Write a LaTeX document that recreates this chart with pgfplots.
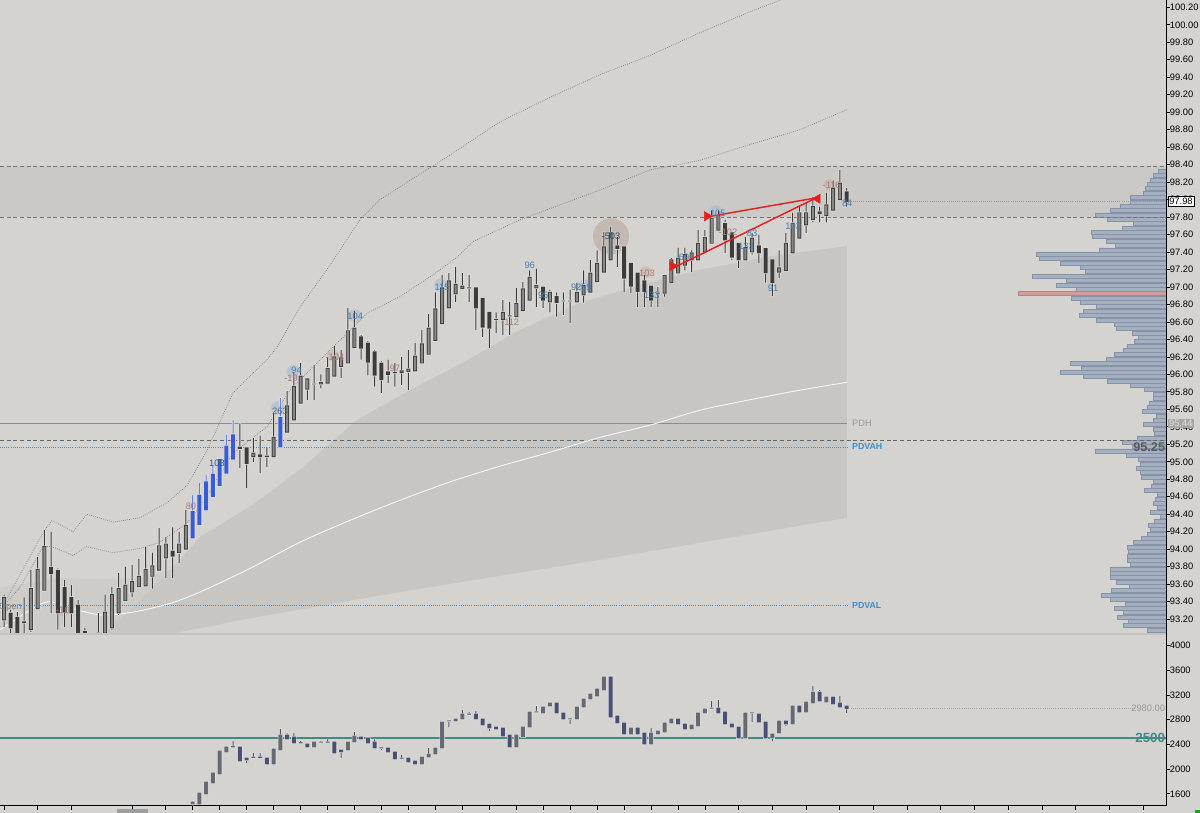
\documentclass[border=0pt]{standalone}
\usepackage{fontspec}
\setmainfont{Liberation Sans}
\usepackage{pgfplots}
\usepackage{pgfplotstable}
\pgfplotsset{compat=1.18}

\definecolor{bg}{HTML}{D4D3D0}
\definecolor{bandc}{HTML}{CAC9C6}
\definecolor{cloud}{HTML}{C7C6C3}
\definecolor{cloudl}{HTML}{CDCCC9}
\definecolor{wickc}{HTML}{3A3A3A}
\definecolor{upfill}{HTML}{878787}
\definecolor{dnfill}{HTML}{3C3C3C}
\definecolor{bluec}{HTML}{3A5BD8}
\definecolor{bluew}{HTML}{5F80E6}
\definecolor{halo}{HTML}{E4E3E0}
\definecolor{navy}{HTML}{4A5075}
\definecolor{navyup}{HTML}{666973}
\definecolor{prof}{HTML}{A4AFC0}
\definecolor{profd}{HTML}{8592A8}
\definecolor{poc}{HTML}{D09C9C}
\definecolor{tealc}{HTML}{3E8A86}
\definecolor{lblue}{HTML}{4B7FB0}
\definecolor{lbrown}{HTML}{A87C72}
\definecolor{pdv}{HTML}{3A8FD0}
\definecolor{redc}{HTML}{E8201C}
\definecolor{dotc}{HTML}{7C7C7C}
\definecolor{sepc}{HTML}{C4C3C0}

\pgfplotstableread{
i o h l c t
0 93.19 93.48 93.11 93.45 1
1 93.27 93.31 93.04 93.10 0
2 93.22 93.28 92.96 93.04 0
3 93.17 93.45 92.96 93.16 0
4 93.08 93.76 93.05 93.55 1
5 93.32 93.91 93.31 93.77 1
6 93.53 94.22 93.53 94.03 1
7 93.79 94.20 93.27 93.72 0
8 93.76 93.78 93.08 93.27 0
9 93.56 93.65 93.11 93.28 0
10 93.45 93.59 93.11 93.27 0
11 93.36 93.42 92.96 93.04 0
12 93.06 93.10 92.90 93.02 0
13 92.98 93.00 92.85 92.90 0
14 92.98 93.27 92.90 93.04 1
15 93.04 93.48 92.98 93.28 1
16 93.10 93.57 93.08 93.48 1
17 93.27 93.73 93.25 93.55 1
18 93.41 93.80 93.40 93.59 1
19 93.51 93.82 93.45 93.63 1
20 93.57 93.89 93.56 93.69 1
21 93.58 94.03 93.58 93.77 1
22 93.69 93.96 93.55 93.81 1
23 93.76 94.24 93.76 94.04 1
24 93.90 94.14 93.67 94.06 1
25 93.98 94.25 93.67 93.92 0
26 93.96 94.20 93.84 94.06 1
27 94.00 94.45 94.00 94.27 1
28 94.13 94.62 94.13 94.43 2
29 94.28 94.76 94.28 94.62 2
30 94.45 94.85 94.45 94.77 2
31 94.60 94.96 94.60 94.86 2
32 94.73 95.04 94.73 95.03 2
33 94.87 95.31 94.87 95.18 2
34 95.03 95.48 95.03 95.31 2
35 95.17 95.44 94.93 95.15 0
36 95.16 95.17 94.70 94.98 0
37 95.06 95.27 95.00 95.10 1
38 95.08 95.30 94.87 95.06 0
39 95.06 95.17 94.94 95.065 1
40 95.06 95.56 95.06 95.28 1
41 95.17 95.73 95.17 95.51 2
42 95.34 95.81 95.34 95.64 1
43 95.48 96.03 95.48 95.86 1
44 95.67 96.13 95.67 95.98 1
45 95.83 95.95 95.71 95.95 1
46 95.89 96.11 95.71 95.89 1
47 95.89 96.00 95.84 95.91 1
48 95.90 96.20 95.90 96.07 1
49 95.98 96.33 95.98 96.20 1
50 96.09 96.28 95.96 96.19 1
51 96.13 96.76 96.13 96.50 1
52 96.31 96.73 96.31 96.53 1
53 96.43 96.45 96.17 96.30 0
54 96.36 96.38 95.99 96.14 0
55 96.26 96.28 95.86 95.99 0
56 96.13 96.15 95.79 95.94 0
57 96.03 96.17 95.90 96.00 0
58 96.02 96.13 95.86 96.02 1
59 96.02 96.20 95.88 96.04 1
60 96.03 96.28 95.82 96.06 1
61 96.04 96.36 96.04 96.21 1
62 96.13 96.51 96.13 96.35 1
63 96.23 96.69 96.23 96.53 1
64 96.39 96.94 96.39 96.75 1
65 96.58 97.14 96.58 96.99 1
66 96.76 97.16 96.76 97.07 1
67 96.92 97.23 96.83 97.03 1
68 96.98 97.16 96.98 97.01 1
69 96.99 97.14 96.83 96.99 1
70 96.99 96.99 96.51 96.76 0
71 96.87 96.87 96.43 96.54 0
72 96.71 96.71 96.30 96.53 0
73 96.63 96.71 96.47 96.63 1
74 96.63 96.85 96.45 96.71 1
75 96.67 96.83 96.45 96.67 1
76 96.66 96.99 96.66 96.81 1
77 96.73 97.06 96.73 96.98 1
78 96.85 97.19 96.85 97.11 1
79 96.99 97.21 96.77 97.02 1
80 97.00 97.00 96.76 96.85 0
81 96.83 96.97 96.71 96.94 1
82 96.89 96.94 96.66 96.82 0
83 96.84 96.94 96.68 96.84 1
84 96.84 96.97 96.59 96.84 1
85 96.83 97.05 96.83 96.94 1
86 96.91 97.19 96.82 97.02 1
87 96.94 97.31 96.94 97.16 1
88 97.06 97.42 97.06 97.27 1
89 97.17 97.63 97.17 97.46 1
90 97.31 97.69 97.31 97.62 1
91 97.47 97.57 97.23 97.44 0
92 97.46 97.46 96.94 97.10 0
93 97.27 97.27 96.93 97.01 0
94 97.16 97.16 96.77 96.95 0
95 97.07 97.14 96.77 96.95 0
96 97.01 97.01 96.77 96.85 0
97 96.93 97.00 96.77 96.93 1
98 96.93 97.13 96.89 97.13 1
99 97.05 97.33 97.05 97.31 1
100 97.16 97.45 97.16 97.33 1
101 97.25 97.45 97.19 97.37 1
102 97.31 97.42 97.17 97.39 1
103 97.31 97.65 97.31 97.50 1
104 97.40 97.65 97.40 97.57 1
105 97.50 97.88 97.50 97.79 1
106 97.65 97.88 97.65 97.82 1
107 97.73 97.77 97.39 97.54 0
108 97.62 97.62 97.31 97.34 0
109 97.50 97.50 97.22 97.31 0
110 97.31 97.57 97.31 97.45 1
111 97.40 97.62 97.37 97.56 1
112 97.47 97.60 97.27 97.39 0
113 97.44 97.44 97.05 97.16 0
114 97.31 97.31 96.90 97.05 0
115 97.17 97.42 97.10 97.22 1
116 97.19 97.62 97.19 97.50 1
117 97.39 97.85 97.39 97.73 1
118 97.56 97.92 97.56 97.85 1
119 97.71 97.96 97.62 97.85 1
120 97.77 98.03 97.74 97.92 1
121 97.86 97.92 97.74 97.84 0
122 97.82 98.08 97.74 97.94 1
123 97.88 98.22 97.88 98.13 1
124 98.00 98.34 98.00 98.19 1
125 98.09 98.13 97.92 97.98 0
}\pricedata

\pgfplotstableread{
i o h l c t
28 1434 1480 1420 1466 1
29 1434 1620 1430 1612 1
30 1596 1800 1590 1790 1
31 1774 1950 1770 1936 1
32 1920 2300 1915 2293 1
33 2277 2375 2270 2358 1
34 2358 2455 2350 2365 1
35 2358 2365 2125 2131 0
36 2179 2185 2098 2147 0
37 2190 2260 2185 2196 1
38 2196 2260 2180 2190 0
39 2179 2185 2075 2082 0
40 2082 2340 2075 2325 1
41 2309 2649 2300 2552 1
42 2552 2580 2480 2487 0
43 2520 2584 2415 2422 0
44 2422 2455 2415 2430 1
45 2406 2415 2350 2358 0
46 2358 2445 2350 2439 1
47 2435 2460 2425 2439 1
48 2439 2480 2430 2435 0
49 2439 2445 2255 2260 0
50 2309 2315 2179 2277 0
51 2309 2445 2300 2439 1
52 2439 2600 2430 2536 1
53 2520 2530 2480 2487 0
54 2503 2510 2406 2422 0
55 2439 2480 2335 2341 0
56 2345 2350 2309 2341 0
57 2341 2345 2270 2277 0
58 2277 2285 2155 2163 0
59 2179 2228 2170 2175 0
60 2179 2185 2110 2115 0
61 2131 2135 2075 2082 0
62 2082 2200 2075 2196 1
63 2196 2341 2190 2244 1
64 2244 2350 2240 2341 1
65 2341 2770 2335 2763 1
66 2779 2795 2682 2785 1
67 2779 2820 2775 2811 1
68 2811 2957 2805 2892 1
69 2892 2925 2880 2888 0
70 2892 2941 2805 2811 0
71 2811 2820 2705 2714 0
72 2730 2735 2617 2665 0
73 2682 2690 2640 2649 0
74 2665 2670 2530 2536 0
75 2552 2560 2350 2358 0
76 2358 2560 2350 2552 1
77 2520 2690 2515 2682 1
78 2682 2930 2675 2925 1
79 2925 3022 2920 2930 1
80 2908 3015 2900 3006 1
81 3022 3080 3015 3070 1
82 3070 3080 2900 2908 0
83 2908 2915 2805 2811 0
84 2811 2820 2730 2815 1
85 2811 3015 2805 3006 1
86 3006 3145 3000 3135 1
87 3135 3225 3130 3216 1
88 3184 3310 3180 3297 1
89 3281 3500 3275 3491 1
90 3491 3510 2835 2844 0
91 2860 2870 2740 2746 0
92 2746 2755 2560 2568 0
93 2568 2670 2560 2665 1
94 2665 2670 2560 2568 0
95 2584 2590 2400 2406 0
96 2406 2665 2400 2584 1
97 2568 2625 2560 2617 1
98 2601 2755 2595 2746 1
99 2746 2820 2740 2811 1
100 2811 2820 2725 2730 0
101 2730 2735 2640 2649 0
102 2649 2720 2640 2714 1
103 2698 2915 2690 2908 1
104 2908 2985 2900 2973 1
105 2985 3103 2980 2989 1
106 2989 3119 2900 2908 0
107 2925 2930 2725 2730 0
108 2730 2735 2675 2682 0
109 2682 2690 2500 2503 0
110 2503 2915 2500 2908 1
111 2908 2920 2763 2912 1
112 2892 2900 2755 2763 0
113 2763 2770 2495 2503 0
114 2503 2575 2455 2568 1
115 2584 2785 2580 2779 1
116 2779 2785 2698 2730 0
117 2730 3030 2725 3022 1
118 3022 3030 2920 2925 0
119 2925 3095 2920 3087 1
120 3070 3346 3065 3249 1
121 3249 3281 3095 3103 0
122 3087 3175 3080 3168 1
123 3168 3175 3050 3054 0
124 3070 3184 3000 3006 0
125 3022 3030 2908 2980 0
}\deltadata

\pgfplotstableread{
p len
98.325 8
98.275 13
98.225 16
98.175 19
98.125 21
98.075 23
98.025 36
97.975 36
97.925 46
97.875 56
97.825 71
97.775 59
97.725 33
97.675 44
97.625 75
97.575 74
97.525 60
97.475 51
97.425 67
97.375 130
97.325 127
97.275 106
97.225 86
97.175 81
97.125 134
97.075 100
97.025 110
96.975 90
96.875 95
96.825 86
96.775 70
96.725 83
96.675 87
96.625 70
96.575 52
96.525 50
96.475 34
96.425 28
96.375 32
96.325 39
96.275 43
96.225 52
96.175 60
96.125 96
96.075 85
96.025 106
95.975 83
95.925 59
95.875 36
95.825 22
95.775 13
95.725 13
95.675 17
95.625 19
95.575 24
95.525 10
95.475 13
95.425 23
95.375 13
95.325 12
95.275 29
95.225 44
95.175 34
95.125 71
95.075 40
95.025 28
94.975 26
94.925 30
94.875 26
94.825 25
94.775 13
94.725 15
94.675 22
94.625 9
94.575 11
94.525 13
94.475 9
94.425 16
94.375 6
94.325 12
94.275 18
94.225 16
94.175 19
94.125 25
94.075 33
94.025 39
93.975 38
93.925 39
93.875 39
93.825 36
93.775 56
93.725 56
93.675 56
93.625 50
93.575 37
93.525 55
93.475 65
93.425 56
93.375 41
93.325 52
93.275 43
93.225 49
93.175 38
93.125 43
93.075 19
}\profdata

\pgfplotsset{
  priceaxis/.style={scale only axis, width=874.5pt, height=475.5pt,
    xmin=-0.5935, xmax=172.4, ymin=93.030, ymax=100.284,
    at={(0pt,609.75pt)}, anchor=north west},
  lowaxis/.style={scale only axis, width=874.5pt, height=129pt,
    xmin=-0.5935, xmax=172.4, ymin=1403, ymax=4188,
    at={(0pt,134.25pt)}, anchor=north west},
  cstack/.style={axis lines=none, ybar stacked},
  base/.style={draw=none, fill=none, forget plot},
}
\tikzset{lbl/.style={font=\fontsize{7}{8}\selectfont, inner sep=0pt}}

\begin{document}
\begin{tikzpicture}
\fill[bg] (0pt,0pt) rectangle (900pt,609.75pt);

% ---------- background fills ----------
\begin{axis}[priceaxis, axis lines=none]
\addplot[fill=bandc, draw=none] coordinates {(-0.6,97.80) (172.4,97.80) (172.4,98.38) (-0.6,98.38)} -- cycle;
\addplot[fill=cloudl, draw=none] coordinates {
(-0.6,93.56) (8.31,93.67) (14.24,93.66) (20.18,93.67) (24.63,93.76) (27.15,93.97)
(24.63,93.03) (-0.6,93.03)} -- cycle;
\addplot[fill=cloud, draw=none] coordinates {
(14.24,93.03) (18.0,93.25) (21.66,93.53) (24.63,93.76) (27.15,93.97) (29.08,94.14) (36.94,94.51)
(43.92,94.91) (52.37,95.48) (60.24,95.82) (68.69,96.16) (76.56,96.51) (85.46,96.82)
(94.36,97.02) (102.82,97.19) (113.65,97.35) (125.07,97.47) (125.07,94.36)
(88.43,93.88) (58.75,93.51) (36.5,93.21) (24.63,93.03)} -- cycle;
\end{axis}

% ---------- volume profile ----------
\begin{axis}[scale only axis, width=874.5pt, height=475.5pt,
  at={(0pt,609.75pt)}, anchor=north west,
  xmin=0, xmax=1166, x dir=reverse, ymin=93.030, ymax=100.284, axis lines=none]
\addplot[xbar, bar shift=0pt, bar width=3.0pt, fill=prof, draw=profd, line width=0.4pt] table[x=len, y=p] {\profdata};
\addplot[xbar, bar shift=0pt, bar width=3.0pt, fill=poc, draw=poc!85!black, line width=0.4pt] coordinates {(148,96.925)};
\end{axis}

% ---------- price panel: axis, levels, bands ----------
\begin{axis}[priceaxis, clip mode=individual,
  axis x line=none, axis y line*=right,
  axis line style={-, black, line width=0.75pt},
  ytick={93.2,93.4,93.6,93.8,94.0,94.2,94.4,94.6,94.8,95.0,95.2,95.4,95.6,95.8,96.0,96.2,96.4,96.6,96.8,97.0,97.2,97.4,97.6,97.8,98.0,98.2,98.4,98.6,98.8,99.0,99.2,99.4,99.6,99.8,100.0,100.2},
  yticklabel={\pgfmathprintnumber[fixed,fixed zerofill,precision=2,assume math mode=true]{\tick}},
  yticklabel style={font=\fontsize{7}{8}\selectfont, text=black, xshift=-3.6pt},
  tick align=outside, major tick length=3pt, tick style={black, line width=0.6pt}]
\addplot[densely dashed, color=black!55, line width=0.6pt] coordinates {(-0.6,98.38) (172.4,98.38)};
\addplot[densely dashed, color=black!55, line width=0.6pt] coordinates {(-0.6,97.80) (172.4,97.80)};
\addplot[densely dotted, color=black!40, line width=0.6pt] coordinates {(125.6,97.98) (172.4,97.98)};
\addplot[color=black!45, line width=0.6pt] coordinates {(-0.6,95.44) (125.1,95.44)};
\addplot[densely dashed, color=black!60, line width=0.6pt] coordinates {(-0.6,95.25) (172.4,95.25)};
\addplot[densely dotted, color=pdv, line width=0.6pt] coordinates {(-0.6,95.17) (125.1,95.17)};
\addplot[densely dotted, color=pdv, line width=0.6pt] coordinates {(-0.6,93.36) (125.1,93.36)};
\addplot[color=white!92!gray, line width=0.7pt, smooth] coordinates {
(-0.59,93.08) (1.63,93.19) (4.6,93.34) (6.82,93.40) (9.79,93.33) (14.24,93.25) (19.14,93.28)
(24.63,93.38) (29.08,93.51) (36.5,93.78) (43.92,94.08) (51.34,94.33) (58.75,94.56)
(66.17,94.77) (73.59,94.95) (81.01,95.11) (88.43,95.28) (95.85,95.42) (103.26,95.59)
(110.68,95.71) (118.1,95.82) (125.07,95.91)};
\addplot[color=dotc, densely dotted, line width=0.55pt] coordinates {
(0.45,93.40) (2.37,93.56) (5.79,94.03) (7.12,94.03) (10.24,93.93) (12.31,94.03) (16.17,93.96)
(20.18,94.01) (23.15,94.08) (27.15,94.30) (29.08,94.48) (33.98,95.10) (39.02,95.40)
(42.43,95.82) (43.92,95.94) (50.89,96.47) (53.86,96.70) (58.75,96.89) (63.65,97.14)
(67.21,97.34) (69.58,97.52) (76.56,97.77) (88.43,98.11) (95.85,98.34) (103.26,98.45)
(110.68,98.63) (118.1,98.80) (125.07,99.03)};
\addplot[color=dotc, densely dotted, line width=0.55pt] coordinates {
(0.45,93.44) (5.79,94.19) (7.12,94.33) (10.24,94.20) (12.31,94.40) (16.17,94.31) (20.18,94.36)
(24.18,94.53) (27.15,94.73) (30.12,95.13) (33.98,95.79) (39.02,96.17) (40.5,96.31)
(43.92,96.77) (48.37,97.25) (52.82,97.77) (55.79,98.00) (60.24,98.22) (66.17,98.51)
(73.59,98.89) (81.01,99.17) (88.43,99.43) (95.85,99.65) (103.26,99.91) (110.68,100.15) (115.13,100.28)};
\addplot[only marks, mark=*, color=lbrown, mark size=13.5pt, mark options={fill opacity=0.32, draw opacity=0}] coordinates {(90.06,97.58)};
\addplot[only marks, mark=*, color=lblue!55!white, mark size=5pt, mark options={fill opacity=0.5, draw opacity=0}] coordinates {(40.65,95.62) (42.9,96.03) (64.8,97.02) (105.6,97.86) (52.1,96.67) (86.2,97.01)};
\addplot[only marks, mark=*, color=lbrown!70!white, mark size=4.5pt, mark options={fill opacity=0.4, draw opacity=0}] coordinates {(48.8,96.22) (122.55,98.17) (95.25,97.17) (8.75,93.30)};
\coordinate (cp) at (axis cs:172.4,97.98);
\coordinate (pdhp) at (axis cs:172.4,95.44);
\end{axis}

% ---------- price candles (stacked bars: invisible base + visible part) ----------
\begin{axis}[priceaxis, cstack]
\addplot[base, bar width=1.8pt] table[x=i, y expr={\thisrow{l}-0.006}] {\pricedata};
\addplot[fill=halo, draw=none, bar width=1.8pt] table[x=i, y expr={\thisrow{h}-\thisrow{l}+0.012}] {\pricedata};
\end{axis}
\begin{axis}[priceaxis, cstack]
\addplot[base, bar width=0.75pt] table[x=i, y=l] {\pricedata};
\addplot[fill=wickc, draw=none, bar width=0.75pt] table[x=i, y expr={(\thisrow{t}<2)*(\thisrow{h}-\thisrow{l})}] {\pricedata};
\addplot[fill=bluew, draw=none, bar width=0.75pt] table[x=i, y expr={(\thisrow{t}==2)*(\thisrow{h}-\thisrow{l})}] {\pricedata};
\end{axis}
\begin{axis}[priceaxis, cstack]
\addplot[base, bar width=3.9pt] table[x=i, y expr={min(\thisrow{o},\thisrow{c})-0.012}] {\pricedata};
\addplot[fill=halo, draw=none, bar width=3.9pt] table[x=i, y expr={abs(\thisrow{o}-\thisrow{c})+0.024}] {\pricedata};
\end{axis}
\begin{axis}[priceaxis, cstack]
\addplot[base, bar width=3.0pt] table[x=i, y expr={min(\thisrow{o},\thisrow{c})-0.005}] {\pricedata};
\addplot[fill=dnfill, draw=none, bar width=3.0pt] table[x=i, y expr={(\thisrow{t}<2)*(abs(\thisrow{o}-\thisrow{c})+0.010)}] {\pricedata};
\addplot[fill=bluec, draw=none, bar width=3.0pt] table[x=i, y expr={(\thisrow{t}==2)*(abs(\thisrow{o}-\thisrow{c})+0.010)}] {\pricedata};
\end{axis}
\begin{axis}[priceaxis, cstack]
\addplot[base, bar width=1.6pt] table[x=i, y expr={min(\thisrow{o},\thisrow{c})+0.006}] {\pricedata};
\addplot[fill=upfill, draw=none, bar width=1.6pt] table[x=i, y expr={(\thisrow{t}==1)*max(abs(\thisrow{o}-\thisrow{c})-0.012,0)}] {\pricedata};
\end{axis}

% ---------- annotations over the candles ----------
\begin{axis}[priceaxis, axis lines=none, clip mode=individual]
\addplot[redc, line width=1.1pt] coordinates {(104.9,97.81) (120.5,98.02)};
\addplot[redc, line width=1.1pt] coordinates {(99.85,97.24) (120.5,98.02)};
\addplot[only marks, mark=triangle*, mark size=4pt, mark options={rotate=-90, fill=redc, draw=redc}] coordinates {(104.3,97.81) (99.2,97.24)};
\addplot[only marks, mark=triangle*, mark size=4pt, mark options={rotate=90, fill=redc, draw=redc}] coordinates {(120.7,98.01)};
\node[lbl, text=black!50, anchor=east] at (axis cs:2.67,93.34) {Open};
\node[lbl, text=lbrown] at (axis cs:8.75,93.30) {-10};
\node[lbl, text=lbrown] at (axis cs:27.74,94.49) {80};
\node[lbl, text=lblue!70!black] at (axis cs:31.6,94.98) {103};
\node[lbl, text=black!60] at (axis cs:40.95,95.58) {263};
\node[lbl, text=lbrown] at (axis cs:42.6,95.95) {-19};
\node[lbl, text=lblue] at (axis cs:43.4,96.05) {94};
\node[lbl, text=lbrown] at (axis cs:49.1,96.2) {-104};
\node[lbl, text=lblue] at (axis cs:52.1,96.66) {104};
\node[lbl, text=lbrown] at (axis cs:58.0,96.07) {97};
\node[lbl, text=lblue] at (axis cs:65.0,97.0) {115};
\node[lbl, text=lbrown] at (axis cs:75.1,96.6) {-112};
\node[lbl, text=lblue] at (axis cs:78.0,97.25) {96};
\node[lbl, text=lblue] at (axis cs:80.0,96.9) {95};
\node[lbl, text=lblue] at (axis cs:84.9,97.0) {92};
\node[lbl, text=lblue] at (axis cs:86.4,97.0) {59};
\node[lbl, text=lblue!60!black] at (axis cs:90.06,97.58) {-503};
\node[lbl, text=lbrown] at (axis cs:95.4,97.16) {103};
\node[lbl, text=lblue] at (axis cs:96.1,96.9) {133};
\node[lbl, text=lblue] at (axis cs:100.9,97.34) {69};
\node[lbl, text=lblue] at (axis cs:105.9,97.84) {105};
\node[lbl, text=lbrown] at (axis cs:107.4,97.63) {-102};
\node[lbl, text=lblue] at (axis cs:110.1,97.47) {133};
\node[lbl, text=lblue] at (axis cs:111.0,97.62) {83};
\node[lbl, text=lblue] at (axis cs:114.1,96.99) {91};
\node[lbl, text=lblue] at (axis cs:117.1,97.69) {103};
\node[lbl, text=lbrown] at (axis cs:122.8,98.16) {-116};
\node[lbl, text=lblue] at (axis cs:125.1,97.96) {84};
\node[lbl, text=black!40, anchor=west] at (axis cs:125.8,95.44) {PDH};
\node[lbl, font=\fontsize{6.6}{8}\selectfont\bfseries, text=pdv, anchor=west] at (axis cs:125.8,95.17) {PDVAH};
\node[lbl, font=\fontsize{6.6}{8}\selectfont\bfseries, text=pdv, anchor=west] at (axis cs:125.8,93.36) {PDVAL};
\node[font=\fontsize{9.5}{10}\selectfont\bfseries, text=black!65, anchor=east, inner sep=0pt] at (axis cs:172.3,95.165) {95.25};
\end{axis}

% ---------- lower panel ----------
\begin{axis}[lowaxis, clip mode=individual,
  axis x line*=bottom, axis y line*=right,
  axis line style={-, black, line width=0.75pt},
  ytick={1600,2000,2400,2800,3200,3600,4000},
  yticklabel={\pgfmathprintnumber[fixed,precision=0,1000 sep={},assume math mode=true]{\tick}},
  yticklabel style={font=\fontsize{7}{8}\selectfont, text=black, xshift=-3.6pt},
  xtick={0,5,10,19,24,28,32,36,40,44,48,52,56,60,64,68,72,76,80,84,88,92,96,100,104,109,114,119,124,129,134,139,144,149,154,159,164,169},
  xticklabels={},
  tick align=outside, major tick length=3pt, tick style={black, line width=0.6pt}]
\addplot[color=tealc, line width=1.6pt] coordinates {(-0.6,2500) (172.4,2500)};
\addplot[densely dotted, color=black!35, line width=0.6pt] coordinates {(125.6,2980) (167.8,2980)};
\node[font=\fontsize{7}{8}\selectfont, text=black!40, anchor=east, inner sep=0pt] at (axis cs:172.3,2980) {2980.00};
\node[font=\fontsize{10}{11}\selectfont\bfseries, text=tealc, anchor=east, inner sep=0pt] at (axis cs:172.3,2500) {2500};
\end{axis}
\begin{axis}[lowaxis, cstack]
\addplot[base, bar width=1.6pt] table[x=i, y expr={\thisrow{l}-8}] {\deltadata};
\addplot[fill=halo, draw=none, bar width=1.6pt] table[x=i, y expr={\thisrow{h}-\thisrow{l}+16}] {\deltadata};
\end{axis}
\begin{axis}[lowaxis, cstack]
\addplot[base, bar width=0.75pt] table[x=i, y=l] {\deltadata};
\addplot[fill=navy, draw=none, bar width=0.75pt] table[x=i, y expr={\thisrow{h}-\thisrow{l}}] {\deltadata};
\end{axis}
\begin{axis}[lowaxis, cstack]
\addplot[base, bar width=3.9pt] table[x=i, y expr={min(\thisrow{o},\thisrow{c})-12}] {\deltadata};
\addplot[fill=halo, draw=none, bar width=3.9pt] table[x=i, y expr={abs(\thisrow{o}-\thisrow{c})+24}] {\deltadata};
\end{axis}
\begin{axis}[lowaxis, cstack]
\addplot[base, bar width=3.0pt] table[x=i, y expr={min(\thisrow{o},\thisrow{c})-6}] {\deltadata};
\addplot[fill=navy, draw=none, bar width=3.0pt] table[x=i, y expr={(\thisrow{t}==0)*(abs(\thisrow{o}-\thisrow{c})+12)}] {\deltadata};
\addplot[fill=navyup, draw=none, bar width=3.0pt] table[x=i, y expr={(\thisrow{t}==1)*(abs(\thisrow{o}-\thisrow{c})+12)}] {\deltadata};
\end{axis}

% separator between panels, price boxes, UI bits
\fill[sepc] (0pt,135.0pt) rectangle (874.5pt,133.5pt);
\node[anchor=west, fill=white, draw=black, line width=0.5pt, inner sep=1pt, font=\fontsize{7}{8}\selectfont] at ([xshift=1.2pt]cp) {97.98};
\node[anchor=west, fill=black!35, inner sep=1pt, text=black!12, font=\fontsize{7}{8}\selectfont] at ([xshift=1.2pt]pdhp) {95.44};
\fill[black!38] (87.75pt,0pt) rectangle (111pt,3.2pt);
\fill[green!70!black] (896pt,0pt) rectangle (900pt,2.5pt);

\pgfresetboundingbox
\useasboundingbox (0pt,0pt) rectangle (900pt,609.75pt);
\end{tikzpicture}
\end{document}
